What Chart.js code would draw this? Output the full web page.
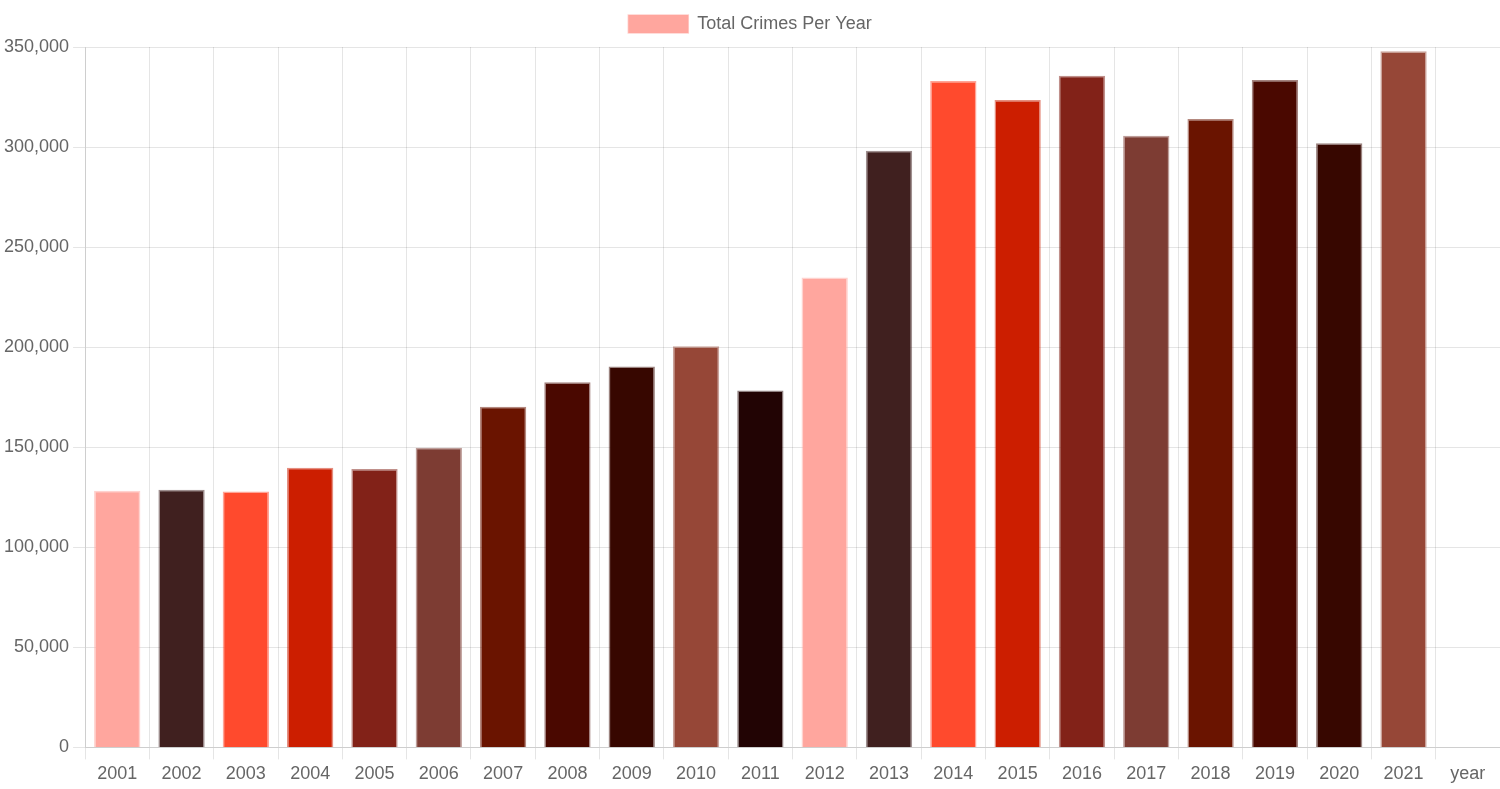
<!DOCTYPE html>
<html>
<head>
<meta charset="utf-8">
<style>
  html, body { margin: 0; padding: 0; background: #fff; }
  #wrap { width: 1500px; height: 789px; position: relative; }
</style>
<script src="https://cdn.jsdelivr.net/npm/chart.js@4/dist/chart.umd.min.js"></script>
</head>
<body>
<div id="wrap"><canvas id="c"></canvas></div>
<script>
const categories = ['2001','2002','2003','2004','2005','2006','2007','2008','2009','2010','2011','2012','2013','2014','2015','2016','2017','2018','2019','2020','2021','year'];
const totalCrimes = [128250, 128760, 127900, 139780, 139130, 149800, 170190, 182520, 190380, 200400, 178360, 234820, 298100, 333020, 323500, 335600, 305610, 313980, 333520, 301950, 347850, null];
const palette = ['#FFA69E','#40201F','#FF4A2D','#CC1E00','#822218','#7D3C33','#6A1400','#4A0800','#370700','#964737','#220404'];
const borderPalette = ['rgba(255,166,158,0.5)','rgba(64,32,31,0.5)','rgba(255,74,45,0.5)','rgba(204,30,0,0.5)','rgba(130,34,24,0.5)','rgba(125,60,51,0.5)','rgba(106,20,0,0.5)','rgba(74,8,0,0.5)','rgba(55,7,0,0.5)','rgba(150,71,55,0.5)','rgba(34,4,4,0.5)'];
const yTickMax = 350000;
const yTickStep = 50000;

const bg = categories.map((_, i) => palette[i % palette.length]);
const bd = categories.map((_, i) => borderPalette[i % borderPalette.length]);

Chart.defaults.font.family = "'Helvetica Neue', Helvetica, Arial, 'Liberation Sans', sans-serif";
Chart.defaults.font.size = 18;
Chart.defaults.color = '#666';

const legendSpacer = {
  id: 'legendSpacer',
  beforeInit(chart) {
    const origFit = chart.legend.fit;
    chart.legend.fit = function () {
      origFit.bind(chart.legend)();
      this.height += 4;
    };
  }
};

new Chart(document.getElementById('c'), {
  type: 'bar',
  plugins: [legendSpacer],
  data: {
    labels: categories,
    datasets: [{
      label: 'Total Crimes Per Year',
      data: totalCrimes,
      backgroundColor: bg,
      borderColor: bd,
      borderWidth: 1.5
    }]
  },
  options: {
    responsive: true,
    maintainAspectRatio: false,
    animation: false,
    layout: { padding: 0 },
    plugins: {
      legend: {
        display: true,
        labels: {
          boxWidth: 60,
          boxHeight: 18,
          padding: 15,
          font: { size: 18 },
          color: '#666',
          generateLabels: (chart) => [{
            text: 'Total Crimes Per Year',
            fillStyle: palette[0],
            strokeStyle: borderPalette[0],
            fontColor: '#666',
            lineWidth: 1.5,
            datasetIndex: 0,
            hidden: false
          }]
        }
      },
      tooltip: { enabled: false }
    },
    scales: {
      x: {
        grid: { color: 'rgba(0,0,0,0.1)', tickLength: 12, offset: true },
        ticks: { padding: 4, font: { size: 18 }, color: '#666' }
      },
      y: {
        min: 0,
        max: yTickMax,
        grid: { color: 'rgba(0,0,0,0.1)', tickLength: 12 },
        ticks: {
          stepSize: yTickStep,
          padding: 4,
          font: { size: 18 },
          color: '#666',
          callback: (v) => v.toLocaleString('en-US')
        }
      }
    }
  }
});
</script>
</body>
</html>
